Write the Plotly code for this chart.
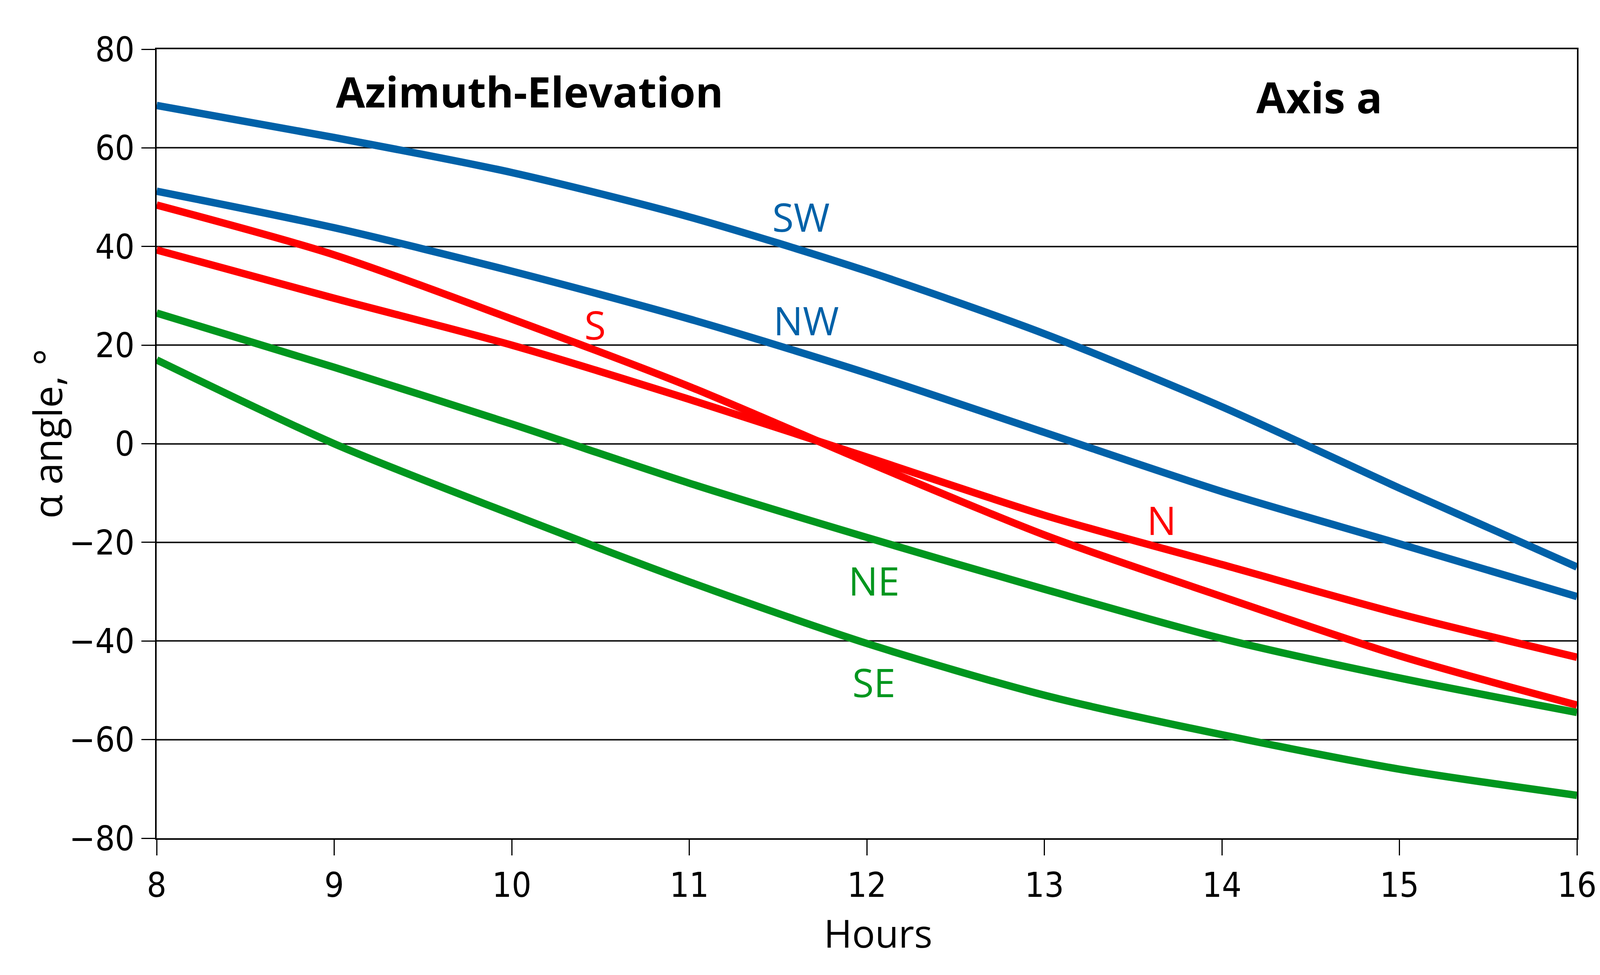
import plotly.graph_objects as go

hours = [8, 9, 10, 11, 12, 13, 14, 15, 16]

sw = [68.6, 62.1, 55.0, 46.0, 35.0, 22.3, 7.5, -9.0, -25.0]
nw = [51.2, 43.8, 35.0, 25.3, 14.3, 2.3, -9.7, -20.3, -31.0]
s_ = [48.4, 38.3, 25.3, 11.6, -3.7, -18.5, -31.0, -43.0, -53.0]
n_ = [39.3, 29.5, 20.0, 9.0, -2.7, -14.5, -24.5, -34.5, -43.3]
ne = [26.5, 15.5, 4.0, -8.0, -19.0, -29.5, -39.5, -47.5, -54.5]
se = [17.0, 0.0, -14.3, -28.0, -40.5, -51.0, -59.0, -66.0, -71.3]

series_names = ["SW", "NW", "S", "N", "NE", "SE"]
series_values = [sw, nw, s_, n_, ne, se]

x_ticks = [8, 9, 10, 11, 12, 13, 14, 15, 16]
y_ticks = [-80, -60, -40, -20, 0, 20, 40, 60, 80]

BLUE = "#0061A8"
RED = "#FF0000"
GREEN = "#00961E"
colors = {"SW": BLUE, "NW": BLUE, "S": RED, "N": RED, "NE": GREEN, "SE": GREEN}

fig = go.Figure()
for name, vals in zip(series_names, series_values):
    fig.add_trace(go.Scatter(
        x=hours, y=vals, mode="lines", name=name,
        line=dict(color=colors[name], width=19, shape="spline", smoothing=0.8),
        showlegend=False,
    ))

label_font = "Open Sans, Noto Sans, DejaVu Sans, sans-serif"
tick_font = "Liberation Sans Narrow, DejaVu Sans Condensed, Arial Narrow, sans-serif"

curve_labels = [
    ("SW", 11.63, 46.1),
    ("NW", 11.66, 25.1),
    ("S", 10.47, 24.2),
    ("N", 13.66, -15.4),
    ("NE", 12.04, -27.7),
    ("SE", 12.04, -48.3),
]
annotations = []
for txt, ax, ay in curve_labels:
    annotations.append(dict(
        x=ax, y=ay, xref="x", yref="y", text=txt, showarrow=False,
        font=dict(family=label_font, size=100, color=colors[txt]),
        xanchor="center", yanchor="middle",
    ))
annotations.append(dict(
    x=10.10, y=71.5, xref="x", yref="y", text="<b>Azimuth-Elevation</b>",
    showarrow=False, font=dict(family=label_font, size=108, color="black"),
    xanchor="center", yanchor="middle",
))
annotations.append(dict(
    x=14.55, y=70.4, xref="x", yref="y", text="<b>Axis a</b>",
    showarrow=False, font=dict(family=label_font, size=110, color="black"),
    xanchor="center", yanchor="middle",
))
# axis titles
annotations.append(dict(
    x=0.508, y=-0.1199, xref="paper", yref="paper", text="Hours",
    showarrow=False, font=dict(family=label_font, size=98, color="black"),
    xanchor="center", yanchor="middle",
))
annotations.append(dict(
    x=-0.0773, y=0.5126, xref="paper", yref="paper", text="α angle, °",
    showarrow=False, textangle=-90,
    font=dict(family=label_font, size=100, color="black"),
    xanchor="center", yanchor="middle",
))

fig.update_layout(
    width=4175, height=2495,
    margin=dict(l=401, r=138, t=126, b=350, pad=0),
    plot_bgcolor="white", paper_bgcolor="white",
    annotations=annotations,
)
fig.update_xaxes(
    range=[8, 16], tickvals=x_ticks, ticktext=[str(v) for v in x_ticks],
    showgrid=False, zeroline=False,
    showline=True, linecolor="black", linewidth=4, mirror=True,
    ticks="outside", ticklen=40, tickwidth=3, tickcolor="black",
    tickfont=dict(family=tick_font, size=88, color="black"),
)
fig.update_yaxes(
    range=[-80, 80], tickvals=y_ticks,
    showgrid=True, gridcolor="#1a1a1a", gridwidth=4, zeroline=False,
    showline=True, linecolor="black", linewidth=4, mirror=True,
    ticks="outside", ticklen=35, tickwidth=3, tickcolor="black",
    tickfont=dict(family=tick_font, size=88, color="black"),
)

fig.write_html("out.html", config={"displayModeBar": False},
               post_script="document.body.style.margin='0';")
